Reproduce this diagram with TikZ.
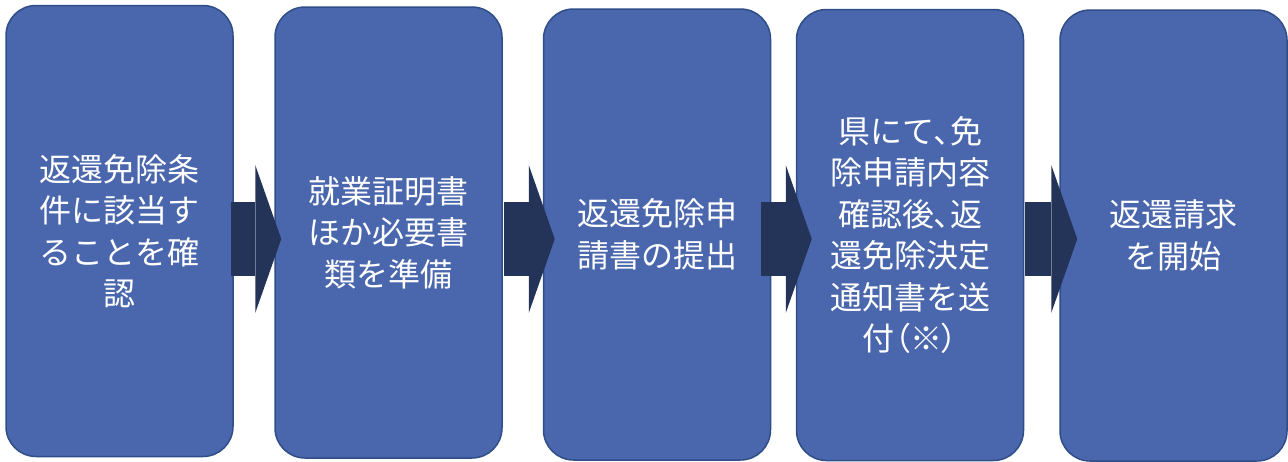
\documentclass[tikz,border=0pt]{standalone}
\usepackage{fontspec}
\setmainfont{Noto Sans CJK JP}
\usepackage{tikz}
\usetikzlibrary{arrows.meta}
\definecolor{boxblue}{HTML}{4A67AD}
\definecolor{boxedge}{HTML}{2F4D87}
\definecolor{arrownavy}{HTML}{243358}
\newcommand{\narrow}[1]{{\addfontfeature{RawFeature=+palt}#1}}
\tikzset{
  stepbox/.style={draw=boxedge, line width=1.5pt, fill=boxblue,
    rounded corners=30pt, minimum width=227pt, minimum height=451pt,
    inner sep=0pt, text=white, align=center,
    font=\fontsize{32pt}{41.5pt}\selectfont},
  flow/.style={draw=arrownavy, line width=74pt,
    -{Triangle[width=148pt,length=26pt,line width=0pt]}}
}

\begin{document}
\begin{tikzpicture}[x=1pt,y=-1pt]
    \useasboundingbox (0,0) rectangle (1288,461);
    % Steps
    \node[stepbox] (check)  at (119.5,231)   {返還免除条\\件に該当す\\ることを確\\認};
    \node[stepbox] (papers) at (388.5,232.5) {就業証明書\\ほか必要書\\類を準備};
    \node[stepbox] (apply)  at (657,234.5)   {返還免除申\\請書の提出};
    \node[stepbox] (notice) at (910,235)     {県にて\narrow{、}免\\除申請内容\\確認後\narrow{、}返\\還免除決定\\通知書を送\\付\narrow{（}※\narrow{）}};
    \node[stepbox] (claim)  at (1173.5,235.5) {返還請求\\を開始};
    % Arrows
    \foreach \a/\b/\s/\e in {check/papers/-3pt/-7pt, papers/apply/1pt/-12pt,
        apply/notice/-10pt/-16pt, notice/claim/1pt/-18pt}
      \draw[flow, shorten <=\s, shorten >=\e] (\a.east |- 0,239) -- (\b.west |- 0,239);
\end{tikzpicture}
\end{document}
